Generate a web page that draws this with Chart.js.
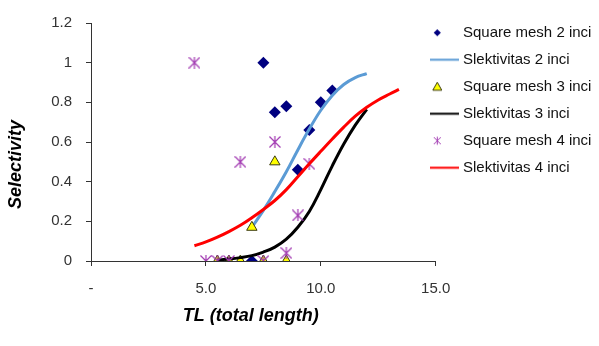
<!DOCTYPE html>
<html><head><meta charset="utf-8">
<script src="https://cdn.jsdelivr.net/npm/chart.js@4.4.1/dist/chart.umd.min.js"></script>
<style>html,body{margin:0;padding:0;background:#fff;}#wrap{width:599px;height:346px;}</style>
</head><body><div id="wrap"><canvas id="c" width="599" height="346"></canvas></div>
<script>
// ---- data ----
const xTickLabels = ['-', '5.0', '10.0', '15.0'];
const yTickLabels = ['0', '0.2', '0.4', '0.6', '0.8', '1', '1.2'];
const seriesNames = ['Square mesh 2 inci', 'Slektivitas 2 inci', 'Square mesh 3 inci',
                     'Slektivitas 3 inci', 'Square mesh 4 inci', 'Slektivitas 4 inci'];

const mesh2X = [7.0, 7.5, 8.0, 8.5, 9.0, 9.5, 10.0, 10.5];
const mesh2Y = [0, 1.0, 0.75, 0.78, 0.46, 0.66, 0.80, 0.86];

const sel2X = [7.0, 7.5, 8.0, 8.5, 9.0, 9.5, 10.0, 10.5, 11.0, 11.5, 12.0];
const sel2Y = [0.17, 0.255, 0.35, 0.45, 0.56, 0.665, 0.76, 0.835, 0.89, 0.925, 0.945];

const mesh3X = [5.5, 6.0, 6.5, 7.0, 7.5, 8.0, 8.5];
const mesh3Y = [0, 0, 0, 0.17, 0, 0.50, 0];

const sel3X = [5.5, 6.0, 6.5, 7.0, 7.5, 8.0, 8.5, 9.0, 9.5, 10.0, 10.5, 11.0, 11.5, 12.0];
const sel3Y = [0.005, 0.01, 0.017, 0.027, 0.045, 0.07, 0.11, 0.17, 0.25, 0.36, 0.48, 0.59, 0.685, 0.765];

const mesh4X = [4.5, 5.0, 5.5, 6.0, 6.5, 7.5, 8.0, 8.5, 9.0, 9.5];
const mesh4Y = [1.0, 0, 0, 0, 0.50, 0, 0.60, 0.04, 0.23, 0.49];

const sel4X = [4.5, 5.0, 5.5, 6.0, 6.5, 7.0, 7.5, 8.0, 8.5, 9.0, 9.5, 10.0, 10.5, 11.0, 11.5, 12.0, 12.5, 13.0, 13.4];
const sel4Y = [0.077, 0.096, 0.12, 0.148, 0.18, 0.218, 0.26, 0.305, 0.36, 0.425, 0.49, 0.553, 0.615, 0.675, 0.73, 0.775, 0.812, 0.842, 0.865];

// ---- styles ----
const NAVY = '#000080', BLUE = '#5B9BD5', YELLOW = '#FFFF00', TRI_EDGE = '#3a3a10',
      BLACK = '#000000', PURPLE = '#A23AB2', RED = '#FF0000';
const FONT = "'Liberation Sans', Arial, sans-serif";

function pts(xs, ys) { return xs.map((x, i) => ({x: x, y: ys[i]})); }

function starCanvas(size, color, lw) {
  const c = document.createElement('canvas'); c.width = size; c.height = size;
  const g = c.getContext('2d'); g.strokeStyle = color; g.lineWidth = lw;
  const a = 0.5, b = size - 0.5, m = size / 2;
  g.beginPath(); g.moveTo(a, a); g.lineTo(b, b); g.moveTo(b, a); g.lineTo(a, b);
  g.moveTo(m, 0); g.lineTo(m, size); g.stroke();
  return c;
}
function legendIcon(kind, color) {
  const c = document.createElement('canvas'); c.width = 29; c.height = 13;
  const g = c.getContext('2d'); const cx = 7.3, cy = 6.5;
  if (kind === 'line') {
    g.strokeStyle = color; g.lineWidth = 2; g.beginPath(); g.moveTo(0, cy); g.lineTo(29, cy); g.stroke();
  } else if (kind === 'diamond') {
    g.fillStyle = color; g.beginPath(); g.moveTo(cx - 3.6, cy); g.lineTo(cx, cy - 3.6);
    g.lineTo(cx + 3.6, cy); g.lineTo(cx, cy + 3.6); g.closePath(); g.fill();
  } else if (kind === 'triangle') {
    g.fillStyle = YELLOW; g.strokeStyle = TRI_EDGE; g.lineWidth = 1;
    g.beginPath(); g.moveTo(cx, cy - 4.5); g.lineTo(cx + 4.5, cy + 3.5); g.lineTo(cx - 4.5, cy + 3.5);
    g.closePath(); g.fill(); g.stroke();
  } else if (kind === 'star') {
    g.strokeStyle = color; g.lineWidth = 1;
    g.beginPath(); g.moveTo(cx - 3.5, cy - 3.5); g.lineTo(cx + 3.5, cy + 3.5);
    g.moveTo(cx + 3.5, cy - 3.5); g.lineTo(cx - 3.5, cy + 3.5);
    g.moveTo(cx, cy - 4); g.lineTo(cx, cy + 4); g.stroke();
  }
  return c;
}
const starMarker = starCanvas(12, PURPLE, 1.2);
const icons = [legendIcon('diamond', NAVY), legendIcon('line', BLUE), legendIcon('triangle'),
               legendIcon('line', BLACK), legendIcon('star', PURPLE), legendIcon('line', RED)];

function lineDs(label, xs, ys, color, order) {
  return {label: label, data: pts(xs, ys), showLine: true, borderColor: color, backgroundColor: color,
          borderWidth: 3, pointRadius: 0, pointHoverRadius: 0, tension: 0.4, order: order};
}

const datasets = [
  {label: seriesNames[0], data: pts(mesh2X, mesh2Y), pointStyle: 'rectRot', pointRadius: 6,
   backgroundColor: NAVY, borderColor: NAVY, borderWidth: 0, showLine: false, order: 5},
  lineDs(seriesNames[1], sel2X, sel2Y, BLUE, 4),
  {label: seriesNames[2], data: pts(mesh3X, mesh3Y), pointStyle: 'triangle', pointRadius: 6,
   backgroundColor: YELLOW, borderColor: TRI_EDGE, borderWidth: 1, showLine: false, order: 3},
  lineDs(seriesNames[3], sel3X, sel3Y, BLACK, 2),
  {label: seriesNames[4], data: pts(mesh4X, mesh4Y), pointStyle: starMarker, pointRadius: 6,
   backgroundColor: PURPLE, borderColor: PURPLE, borderWidth: 0, showLine: false, order: 1},
  lineDs(seriesNames[5], sel4X, sel4Y, RED, 0)
];

const NB = '\u00a0';
const legendPos = {
  id: 'legendPos',
  beforeDraw(chart) {
    const lg = chart.legend; if (!lg) return;
    const h = lg.height;
    lg.left = 421.5; lg.right = 599; lg.top = 13.2; lg.bottom = lg.top + h;
  }
};

new Chart(document.getElementById('c'), {
  type: 'scatter',
  data: {datasets: datasets},
  plugins: [legendPos],
  options: {
    responsive: false, animation: false, devicePixelRatio: 1,
    layout: {padding: {top: 12, left: 0, right: 0, bottom: 0}},
    plugins: {
      tooltip: {enabled: false},
      legend: {
        position: 'right', align: 'start', maxWidth: 163.3,
        labels: {
          usePointStyle: true, pointStyleWidth: 22, boxHeight: 15, padding: 12,
          color: '#111', font: {family: FONT, size: 15},
          generateLabels: (chart) => chart.data.datasets.map((ds, i) => ({
            text: ds.label, pointStyle: icons[i], fillStyle: 'rgba(0,0,0,0)', strokeStyle: 'rgba(0,0,0,0)',
            lineWidth: 0, hidden: false, datasetIndex: i, fontColor: '#111'
          }))
        }
      }
    },
    scales: {
      x: {
        type: 'linear', min: 0, max: 15,
        afterFit: (s) => { s.height = 85; },
        border: {display: true, color: '#333', width: 1},
        grid: {drawOnChartArea: false, drawTicks: true, tickLength: 5, tickColor: '#333'},
        ticks: {stepSize: 5, maxRotation: 0, padding: 14, color: '#333',
                font: {family: FONT, size: 15},
                callback: (v, i) => xTickLabels[i]},
        title: {display: true, text: 'TL (total length)' + NB.repeat(5), color: '#000',
                font: {family: FONT, size: 18, weight: 'bold', style: 'italic'},
                padding: {top: 0, bottom: 19}}
      },
      y: {
        type: 'linear', min: 0, max: 1.2,
        afterFit: (s) => { s.width = 91; },
        border: {display: true, color: '#333', width: 1},
        grid: {drawOnChartArea: false, drawTicks: true, tickLength: 5, tickColor: '#333'},
        ticks: {stepSize: 0.2, padding: 14, color: '#333',
                font: {family: FONT, size: 15},
                callback: (v, i) => yTickLabels[i]},
        title: {display: true, text: 'Selectivity' + NB.repeat(9), color: '#000',
                font: {family: FONT, size: 18, weight: 'bold', style: 'italic'},
                padding: {top: 5, bottom: 0}}
      }
    }
  }
});
</script></body></html>
